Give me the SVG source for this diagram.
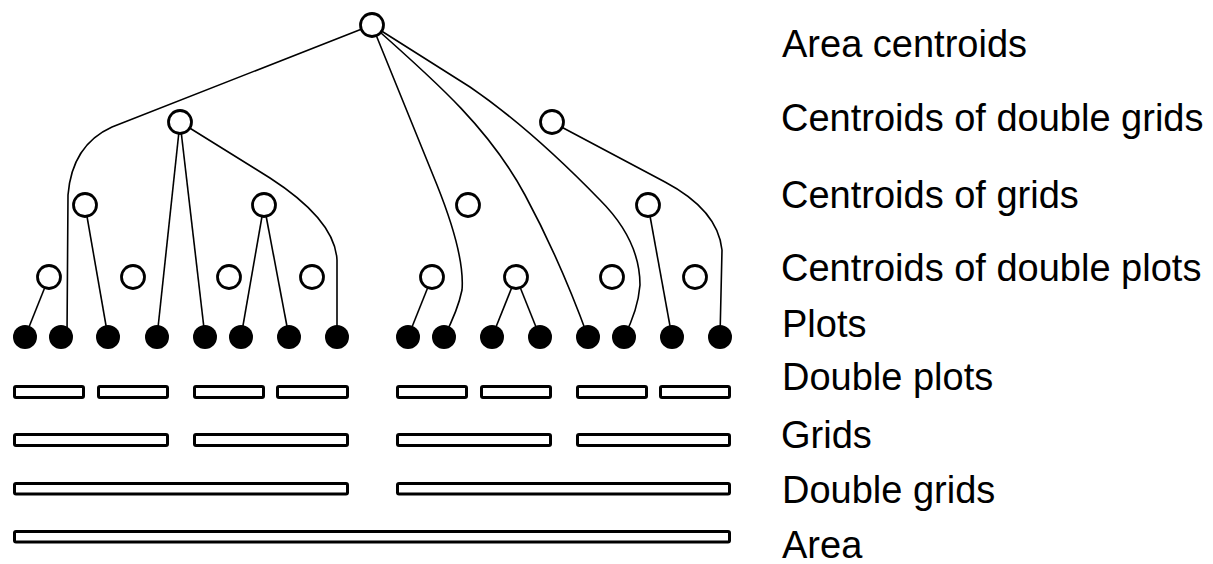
<svg xmlns="http://www.w3.org/2000/svg" width="1213" height="564" viewBox="0 0 1213 564">
<style>
.edge{fill:none;stroke:#000;stroke-width:1.6}
.open{fill:#fff;stroke:#000;stroke-width:2.8}
.plot{fill:#000;stroke:none}
.bar{fill:#fff;stroke:#000;stroke-width:3}
.lbl{font-family:"Liberation Sans",Arial,sans-serif;font-size:38px;fill:#000}
</style>
<rect width="1213" height="564" fill="#fff"/>
<g id="connectors">
<path class="edge" d="M372,25 L112,127 Q72,145 68,195 L67,337"/>
<path class="edge" d="M372,25 L437,185 Q465,255 462,290 Q458,310 444,337"/>
<path class="edge" d="M372,25 C440,85 490,130 525,195 Q560,260 588,337"/>
<path class="edge" d="M372,25 L470,87 Q530,128 600,200 Q640,240 640,285 Q638,310 624,337"/>
<path class="edge" d="M552,122 L665,182 Q718,210 722,250 L720,337"/>
<path class="edge" d="M180,122 L157,337"/>
<path class="edge" d="M180,122 L205,337"/>
<path class="edge" d="M180,122 L270,178 Q335,220 337,260 L337,337"/>
<path class="edge" d="M85,205 L108,337"/>
<path class="edge" d="M264,205 L241,337"/>
<path class="edge" d="M264,205 L289,337"/>
<path class="edge" d="M648,205 L672,337"/>
<path class="edge" d="M49,277 L25,337"/>
<path class="edge" d="M432,277 L408,337"/>
<path class="edge" d="M516,277 L492,337"/>
<path class="edge" d="M516,277 L540,337"/>
</g>
<g id="area-centroid"><circle class="open" cx="372" cy="25" r="11.5"/></g>
<g id="double-grid-centroids">
<circle class="open" cx="180" cy="122" r="11.5"/>
<circle class="open" cx="552" cy="122" r="11.5"/>
</g>
<g id="grid-centroids">
<circle class="open" cx="85" cy="205" r="11.5"/>
<circle class="open" cx="264" cy="205" r="11.5"/>
<circle class="open" cx="468" cy="205" r="11.5"/>
<circle class="open" cx="648" cy="205" r="11.5"/>
</g>
<g id="double-plot-centroids">
<circle class="open" cx="49" cy="277" r="11.5"/>
<circle class="open" cx="133" cy="277" r="11.5"/>
<circle class="open" cx="229" cy="277" r="11.5"/>
<circle class="open" cx="312" cy="277" r="11.5"/>
<circle class="open" cx="432" cy="277" r="11.5"/>
<circle class="open" cx="516" cy="277" r="11.5"/>
<circle class="open" cx="612" cy="277" r="11.5"/>
<circle class="open" cx="695" cy="277" r="11.5"/>
</g>
<g id="plots">
<circle class="plot" cx="25" cy="337" r="12"/>
<circle class="plot" cx="61" cy="337" r="12"/>
<circle class="plot" cx="108" cy="337" r="12"/>
<circle class="plot" cx="157" cy="337" r="12"/>
<circle class="plot" cx="205" cy="337" r="12"/>
<circle class="plot" cx="241" cy="337" r="12"/>
<circle class="plot" cx="289" cy="337" r="12"/>
<circle class="plot" cx="337" cy="337" r="12"/>
<circle class="plot" cx="408" cy="337" r="12"/>
<circle class="plot" cx="444" cy="337" r="12"/>
<circle class="plot" cx="492" cy="337" r="12"/>
<circle class="plot" cx="540" cy="337" r="12"/>
<circle class="plot" cx="588" cy="337" r="12"/>
<circle class="plot" cx="624" cy="337" r="12"/>
<circle class="plot" cx="672" cy="337" r="12"/>
<circle class="plot" cx="720" cy="337" r="12"/>
</g>
<g id="double-plots">
<rect class="bar" x="14.5" y="386.5" width="69" height="11" rx="1.5"/>
<rect class="bar" x="98.5" y="386.5" width="69" height="11" rx="1.5"/>
<rect class="bar" x="194.5" y="386.5" width="69" height="11" rx="1.5"/>
<rect class="bar" x="277.5" y="386.5" width="70" height="11" rx="1.5"/>
<rect class="bar" x="397.5" y="386.5" width="69" height="11" rx="1.5"/>
<rect class="bar" x="481.5" y="386.5" width="69" height="11" rx="1.5"/>
<rect class="bar" x="577.5" y="386.5" width="69" height="11" rx="1.5"/>
<rect class="bar" x="660.5" y="386.5" width="69" height="11" rx="1.5"/>
</g>
<g id="grids">
<rect class="bar" x="14.5" y="434.5" width="153" height="11" rx="1.5"/>
<rect class="bar" x="194.5" y="434.5" width="153" height="11" rx="1.5"/>
<rect class="bar" x="397.5" y="434.5" width="153" height="11" rx="1.5"/>
<rect class="bar" x="577.5" y="434.5" width="152" height="11" rx="1.5"/>
</g>
<g id="double-grids">
<rect class="bar" x="14.5" y="483.5" width="333" height="10.5" rx="1.5"/>
<rect class="bar" x="397.5" y="483.5" width="332" height="10.5" rx="1.5"/>
</g>
<g id="area">
<rect class="bar" x="14.5" y="531.5" width="715" height="10.5" rx="1.5"/>
</g>
<g id="labels">
<text class="lbl" x="782" y="57">Area centroids</text>
<text class="lbl" x="781" y="131">Centroids of double grids</text>
<text class="lbl" x="781" y="208">Centroids of grids</text>
<text class="lbl" x="781" y="281">Centroids of double plots</text>
<text class="lbl" x="782" y="337">Plots</text>
<text class="lbl" x="782" y="390">Double plots</text>
<text class="lbl" x="781" y="448">Grids</text>
<text class="lbl" x="782" y="503">Double grids</text>
<text class="lbl" x="782" y="558">Area</text>
</g>
</svg>
